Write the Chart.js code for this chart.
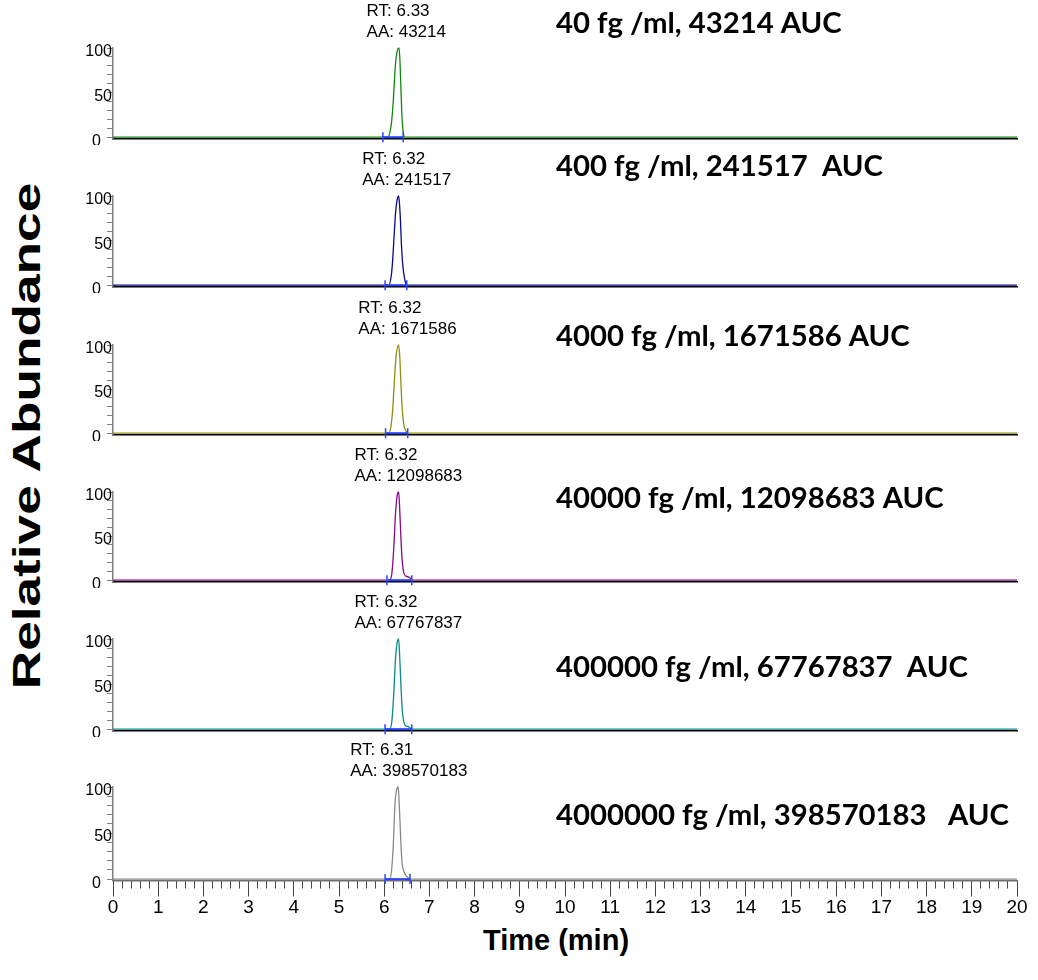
<!DOCTYPE html>
<html lang="en">
<head>
<meta charset="utf-8">
<title>SRM chromatograms – calibration series</title>
<script src="https://cdn.jsdelivr.net/npm/chart.js@4.4.1/dist/chart.umd.min.js"></script>
<style>
  html, body { margin: 0; padding: 0; background: #fff; }
  #figure { position: relative; width: 1038px; height: 980px; overflow: hidden; }
  #figure canvas { position: absolute; left: 0; }
  .axis-title { position: absolute; font-family: "Liberation Sans", Arial, sans-serif; font-weight: bold;
                color: #000; white-space: nowrap; line-height: 1; }
  #yTitle { left: 27px; top: 436px; font-size: 38px; transform: translate(-50%, -50%) rotate(-90deg) scaleX(1.4); }
  #xTitle { left: 556px; top: 940px; font-size: 29px; transform: translate(-50%, -50%); }
</style>
</head>
<body>
<div id="figure">
  <div id="yTitle" class="axis-title">Relative Abundance</div>
  <div id="xTitle" class="axis-title">Time (min)</div>
</div>
<script>
// ---- data ----------------------------------------------------------------
const concentrations = ['40', '400', '4000', '40000', '400000', '4000000'];   // fg /ml
const retentionTimes = [6.33, 6.32, 6.32, 6.32, 6.32, 6.31];                  // min
const peakAreas      = [43214, 241517, 1671586, 12098683, 67767837, 398570183];
const aucGaps        = [' ', '  ', ' ', ' ', '  ', '   '];
const traceColors    = ['#118811', '#0a0a86', '#8e8e10', '#880a88', '#0a8a8a', '#8a8a8a'];

// integration window [start, end] for each peak (min)
const integrationWindows = [
  [5.97, 6.42], [6.02, 6.50], [6.03, 6.52], [6.06, 6.61], [6.02, 6.61], [6.02, 6.57]
];

// chromatogram traces: [time (min), relative abundance (%)]
const trace40 = [
  [0, 0], [6.08, 0], [6.12, 4], [6.165, 18], [6.20, 40], [6.225, 62], [6.25, 82], [6.29, 97],
  [6.33, 100], [6.35, 84], [6.37, 55], [6.39, 26], [6.42, 6], [6.46, 0], [20, 0]
];
const trace400 = [
  [0, 0], [6.10, 0], [6.16, 12], [6.19, 30], [6.22, 56], [6.25, 80], [6.28, 94], [6.32, 100],
  [6.34, 90], [6.36, 72], [6.38, 47], [6.41, 23], [6.46, 5], [6.50, 0], [20, 0]
];
const trace4000 = [
  [0, 0], [6.10, 0], [6.15, 8], [6.19, 28], [6.22, 55], [6.26, 86], [6.32, 100], [6.345, 86],
  [6.37, 57], [6.40, 26], [6.44, 8], [6.49, 2], [6.52, 0], [20, 0]
];
const trace40000 = [
  [0, 0], [6.12, 0], [6.17, 8], [6.21, 35], [6.25, 75], [6.29, 97], [6.32, 100], [6.34, 84],
  [6.37, 48], [6.40, 21], [6.43, 9], [6.47, 5], [6.51, 4], [6.56, 3], [6.60, 1], [6.63, 0], [20, 0]
];
const trace400000 = [
  [0, 0], [6.12, 0], [6.17, 9], [6.21, 38], [6.25, 78], [6.29, 97], [6.32, 100], [6.34, 84],
  [6.37, 49], [6.40, 21], [6.43, 9], [6.47, 4], [6.52, 3], [6.57, 1.5], [6.61, 0], [20, 0]
];
const trace4000000 = [
  [0, 0], [6.12, 0], [6.16, 8], [6.20, 36], [6.24, 83], [6.28, 98], [6.31, 100], [6.33, 84],
  [6.35, 62], [6.37, 38], [6.40, 16], [6.44, 8], [6.48, 4], [6.52, 2], [6.56, 0], [20, 0]
];
const traces = [trace40, trace400, trace4000, trace40000, trace400000, trace4000000];

// axis ticks
const timeTicks      = [0, 1, 2, 3, 4, 5, 6, 7, 8, 9, 10, 11, 12, 13, 14, 15, 16, 17, 18, 19, 20];
const minorTimeTicks = Array.from({ length: 101 }, (_, i) => i / 5);
const abundanceTicks = [0, 10, 20, 30, 40, 50, 60, 70, 80, 90, 100];
const abundanceLabels = [0, 50, 100];

// ---- layout --------------------------------------------------------------
const FIG_W = 1038;
const HEAD = 48;                                   // room above the 100 % line of each panel
const PLOT_LEFT = 113, PLOT_RIGHT = 1017;
const panelTop  = [48, 196, 345, 492, 639, 787];   // y of 100 %
const panelAxis = [141.5, 289.5, 437.5, 584.5, 733.5, 880.5]; // y of the time axis line
const noteBaseline = [33, 176, 346, 508, 677, 825];
const NOTE_X = 556;
const BOTTOM_AXIS_H = 60;

const SANS = '"Liberation Sans", Arial, sans-serif';

// RT / area labels over each peak, plus the concentration note
const peakLabelPlugin = {
  id: 'peakLabel',
  afterDatasetsDraw(chart, args, opts) {
    const { ctx } = chart;
    const x = chart.scales.x, y = chart.scales.y;
    ctx.save();
    ctx.fillStyle = '#000';
    ctx.textAlign = 'left';
    ctx.textBaseline = 'alphabetic';
    ctx.font = '17px ' + SANS;
    const lines = ['RT: ' + opts.rt.toFixed(2), 'AA: ' + opts.area];
    const w = Math.max(...lines.map(s => ctx.measureText(s).width));
    const left = x.getPixelForValue(opts.rt) - 0.41 * w;
    const top = y.getPixelForValue(100);
    ctx.fillText(lines[0], left, top - 32);
    ctx.fillText(lines[1], left, top - 11);
    ctx.font = 'bold 29.3px Lato, "Open Sans", sans-serif';
    ctx.fillText(opts.note, opts.noteX, opts.noteY);
    ctx.restore();
  }
};

const figure = document.getElementById('figure');

concentrations.forEach((conc, i) => {
  const last = i === concentrations.length - 1;
  const canvasTop = panelTop[i] - HEAD;
  const span = panelAxis[i] - panelTop[i];
  const bottomRoom = last ? BOTTOM_AXIS_H : 3;
  const H = Math.ceil(HEAD + span + bottomRoom);
  const padBottom = H - (HEAD + span) - (last ? BOTTOM_AXIS_H : 0);

  const canvas = document.createElement('canvas');
  canvas.width = FIG_W;
  canvas.height = H;
  canvas.style.top = canvasTop + 'px';
  canvas.style.width = FIG_W + 'px';
  canvas.style.height = H + 'px';
  figure.appendChild(canvas);

  const [w0, w1] = integrationWindows[i];

  const yScale = {
    type: 'linear', min: -1.5, max: 100,
    afterBuildTicks: s => { s.ticks = abundanceTicks.map(v => ({ value: v })); },
    afterFit: s => { s.width = PLOT_LEFT; },
    border: { color: '#808080', width: 1.5 },
    grid: { drawOnChartArea: false, tickLength: 6, tickColor: '#808080', tickWidth: 1 },
    ticks: {
      autoSkip: false, padding: -5, labelOffset: 4, color: '#000',
      font: { family: SANS, size: 16 },
      callback: v => abundanceLabels.includes(v) ? (v === 0 ? '0\u2002\u2009' : String(v)) : ''
    }
  };

  const scales = {};
  if (last) {
    scales.xMinor = {
      type: 'linear', min: 0, max: 20, position: 'bottom', weight: 0,
      afterBuildTicks: s => { s.ticks = minorTimeTicks.map(v => ({ value: v })); },
      afterFit: s => { s.height = 0; },
      border: { display: false },
      grid: { drawOnChartArea: false, tickLength: 8, tickColor: '#444', tickWidth: 1 },
      ticks: { display: false, autoSkip: false }
    };
    scales.x = {
      type: 'linear', min: 0, max: 20, position: 'bottom', weight: 1,
      afterBuildTicks: s => { s.ticks = timeTicks.map(v => ({ value: v })); },
      afterFit: s => { s.height = BOTTOM_AXIS_H; },
      border: { color: '#707070', width: 1.5 },
      grid: { drawOnChartArea: false, tickLength: 16, tickColor: '#444', tickWidth: 1 },
      ticks: { padding: 0, color: '#000', maxRotation: 0, autoSkip: false, font: { family: SANS, size: 19 } }
    };
  } else {
    scales.x = {
      type: 'linear', min: 0, max: 20, position: 'bottom',
      afterFit: s => { s.height = 0; },
      border: { color: '#000', width: 1.5 },
      grid: { display: false },
      ticks: { display: false }
    };
  }
  scales.y = yScale;

  new Chart(canvas, {
    type: 'line',
    data: {
      datasets: [
        {
          // integration baseline with start/end markers
          data: [[w0, 0], [w1, 0]],
          xAxisID: 'x',
          borderColor: '#2a44ff', borderWidth: 2,
          pointStyle: 'line', rotation: 90, pointRadius: 5,
          pointBorderColor: '#2a44ff', pointBorderWidth: 1.5,
          clip: false
        },
        {
          data: traces[i],
          xAxisID: 'x',
          borderColor: traceColors[i], borderWidth: 1.3,
          pointRadius: 0, cubicInterpolationMode: 'monotone',
          clip: false
        }
      ]
    },
    options: {
      responsive: false, animation: false, events: [],
      layout: { padding: { top: HEAD, left: 0, right: FIG_W - PLOT_RIGHT, bottom: padBottom } },
      scales,
      plugins: {
        legend: { display: false },
        tooltip: { enabled: false },
        peakLabel: {
          rt: retentionTimes[i],
          area: peakAreas[i],
          note: conc + ' fg /ml, ' + peakAreas[i] + aucGaps[i] + 'AUC',
          noteX: NOTE_X,
          noteY: noteBaseline[i] - canvasTop
        }
      }
    },
    plugins: [peakLabelPlugin]
  });
});
</script>
</body>
</html>
